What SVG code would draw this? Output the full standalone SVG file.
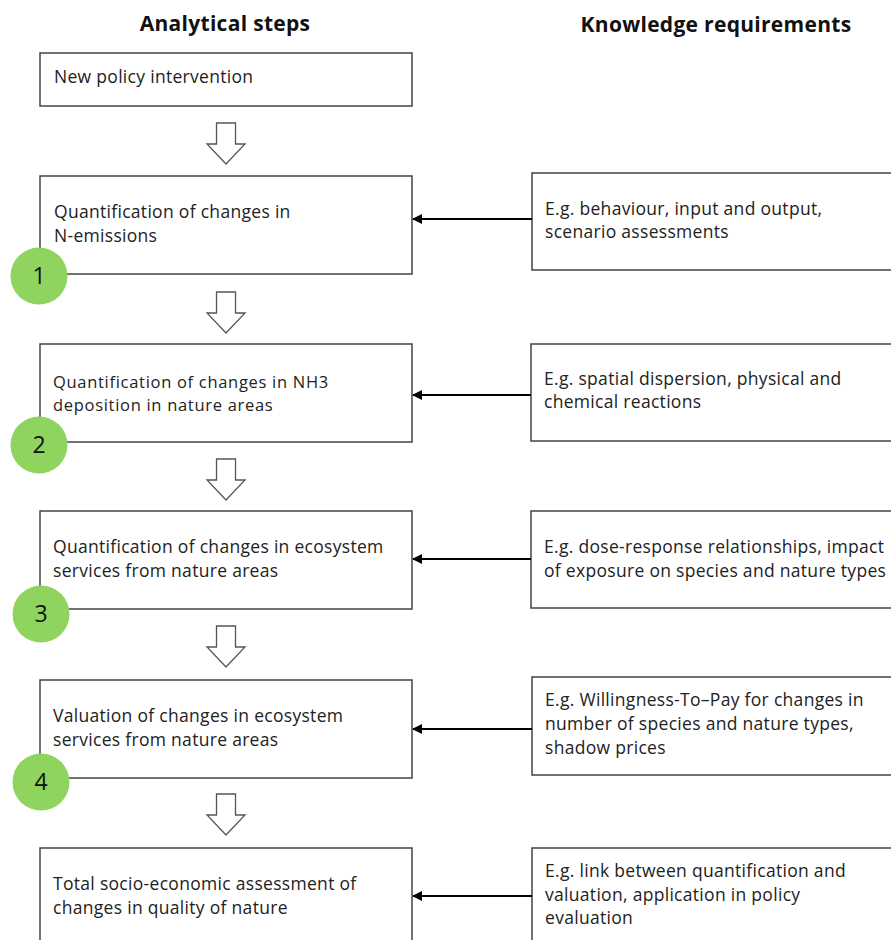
<svg xmlns="http://www.w3.org/2000/svg" width="891" height="940" viewBox="0 0 891 940">
<defs>
<style>
.box{fill:#fff;stroke:#444;stroke-width:1.5}
.t{font-family:"Open Sans","Noto Sans","Liberation Sans",sans-serif;font-size:17.5px;letter-spacing:0.3px;fill:#222}
.ts{font-family:"Open Sans","Noto Sans","Liberation Sans",sans-serif;font-size:16.5px;letter-spacing:0.7px;fill:#222}
.h{font-family:"Open Sans","Noto Sans","Liberation Sans",sans-serif;font-size:21px;letter-spacing:0.3px;font-weight:bold;fill:#111;text-anchor:middle}
.hollow{fill:#fff;stroke:#555;stroke-width:1.3}
.num{fill:#8fd45e}
.nt{font-family:"Open Sans","Noto Sans","Liberation Sans",sans-serif;font-size:23px;fill:#111;text-anchor:middle}
.con{stroke:#000;stroke-width:2;fill:none;marker-end:url(#ah)}
</style>
<marker id="ah" viewBox="0 0 10 10" refX="9" refY="5" markerWidth="5" markerHeight="5" orient="auto" markerUnits="strokeWidth">
<path d="M0,0 L10,5 L0,10 z" fill="#000"/>
</marker>
<path id="harrow" d="M-9.5,0 H9.5 V21 H19 L0,41 L-19,21 H-9.5 Z"/>
</defs>
<rect width="891" height="940" fill="#fff"/>
<g id="headers">
<text class="h" x="225" y="31">Analytical steps</text>
<text class="h" x="716" y="32">Knowledge requirements</text>
</g>
<g id="step0">
<rect class="box" x="40" y="53" width="372" height="53"/>
<text class="t" x="54" y="83">New policy intervention</text>
</g>
<g id="step1">
<rect class="box" x="40" y="176" width="372" height="98"/>
<text class="t" x="54" y="218">Quantification of changes in</text>
<text class="t" x="54" y="242">N-emissions</text>
</g>
<g id="step2">
<rect class="box" x="40" y="344" width="372" height="98"/>
<text class="ts" x="53" y="388">Quantification of changes in NH3</text>
<text class="ts" x="53" y="411">deposition in nature areas</text>
</g>
<g id="step3">
<rect class="box" x="40" y="511" width="372" height="98"/>
<text class="t" x="53" y="553">Quantification of changes in ecosystem</text>
<text class="t" x="53" y="577">services from nature areas</text>
</g>
<g id="step4">
<rect class="box" x="40" y="680" width="372" height="98"/>
<text class="t" x="53" y="722">Valuation of changes in ecosystem</text>
<text class="t" x="53" y="746">services from nature areas</text>
</g>
<g id="step5">
<rect class="box" x="40" y="848" width="372" height="100"/>
<text class="t" x="53" y="890">Total socio-economic assessment of</text>
<text class="t" x="53" y="914">changes in quality of nature</text>
</g>
<g id="know1">
<rect class="box" x="532" y="173" width="370" height="97"/>
<text class="t" x="545" y="215">E.g. behaviour, input and output,</text>
<text class="t" x="545" y="238">scenario assessments</text>
</g>
<g id="know2">
<rect class="box" x="531" y="344" width="370" height="97"/>
<text class="t" x="544" y="385">E.g. spatial dispersion, physical and</text>
<text class="t" x="544" y="408">chemical reactions</text>
</g>
<g id="know3">
<rect class="box" x="531" y="511" width="370" height="97"/>
<text class="t" x="544" y="553">E.g. dose-response relationships, impact</text>
<text class="t" x="544" y="577">of exposure on species and nature types</text>
</g>
<g id="know4">
<rect class="box" x="532" y="677" width="370" height="98"/>
<text class="t" x="545" y="706">E.g. Willingness-To–Pay for changes in</text>
<text class="t" x="545" y="730">number of species and nature types,</text>
<text class="t" x="545" y="754">shadow prices</text>
</g>
<g id="know5">
<rect class="box" x="532" y="848" width="370" height="100"/>
<text class="t" x="545" y="877">E.g. link between quantification and</text>
<text class="t" x="545" y="901">valuation, application in policy</text>
<text class="t" x="545" y="924">evaluation</text>
</g>
<g id="badges">
<circle class="num" cx="39" cy="276" r="28.5"/>
<text class="nt" x="39" y="284">1</text>
<circle class="num" cx="39" cy="445" r="28.5"/>
<text class="nt" x="39" y="453">2</text>
<circle class="num" cx="41" cy="614" r="28.5"/>
<text class="nt" x="41" y="622">3</text>
<circle class="num" cx="41" cy="782" r="28.5"/>
<text class="nt" x="41" y="790">4</text>
</g>
<g id="connectors">
<use href="#harrow" class="hollow" x="226" y="123"/>
<use href="#harrow" class="hollow" x="226" y="292"/>
<use href="#harrow" class="hollow" x="226" y="459"/>
<use href="#harrow" class="hollow" x="226" y="626"/>
<use href="#harrow" class="hollow" x="226" y="794"/>
<line class="con" x1="532" y1="219" x2="413" y2="219"/>
<line class="con" x1="531" y1="395" x2="413" y2="395"/>
<line class="con" x1="531" y1="559" x2="413" y2="559"/>
<line class="con" x1="532" y1="729" x2="413" y2="729"/>
<line class="con" x1="532" y1="896" x2="413" y2="896"/>
</g>
</svg>
